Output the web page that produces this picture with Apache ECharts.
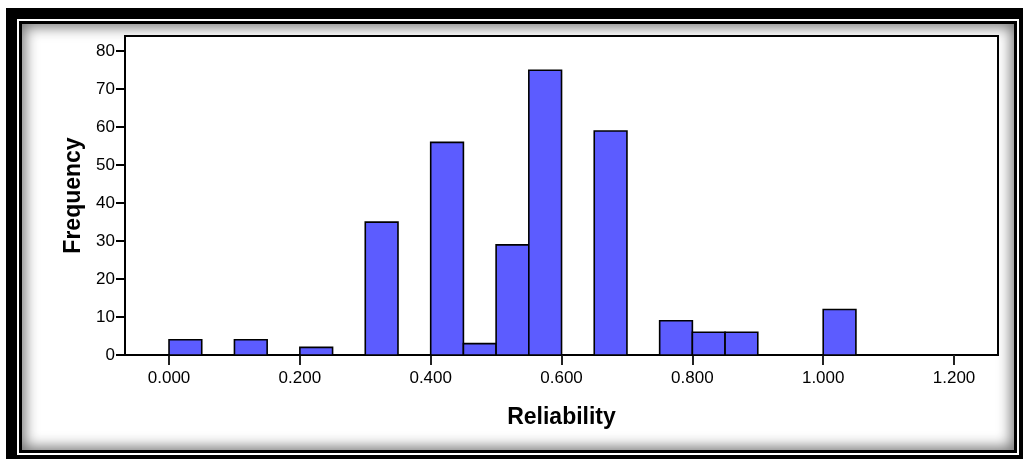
<!DOCTYPE html>
<html>
<head>
<meta charset="utf-8">
<script src="https://cdn.jsdelivr.net/npm/echarts@6/dist/echarts.min.js"></script>
<style>
  html, body { margin: 0; padding: 0; background: #fff; }
  #wrap { position: relative; width: 1026px; height: 459px; overflow: hidden; }
  /* double black frame with a soft inner shadow */
  #outer { position: absolute; left: 6px; top: 8px; width: 1017px; height: 460px; background: #000; }
  #whiteband { position: absolute; left: 17px; top: 19px; width: 1002px; height: 436px; background: #fff; }
  #inner { position: absolute; left: 19px; top: 21px; width: 998px; height: 432px; background: #000; }
  #panel { position: absolute; left: 22px; top: 24px; width: 992px; height: 426px; background: #fff;
           box-shadow: inset 0 0 14px 3px rgba(0,0,0,0.55); }
  #chart { position: absolute; left: 0; top: 0; width: 1026px; height: 459px; }
</style>
</head>
<body>
<div id="wrap">
  <div id="outer"></div>
  <div id="whiteband"></div>
  <div id="inner"></div>
  <div id="panel"></div>
  <div id="chart"></div>
</div>
<script>
// Histogram bins (lower edge of each bin) and their frequencies
const binWidth = 0.05;
const binStarts = [0.00, 0.10, 0.20, 0.30, 0.40, 0.45, 0.50, 0.55, 0.65, 0.75, 0.80, 0.85, 1.00];
const counts    = [4,    4,    2,    35,   56,   3,    29,   75,   59,   9,    6,    6,    12];

// Axis tick values and labels
const xTicks = [0.0, 0.2, 0.4, 0.6, 0.8, 1.0, 1.2];
const xTickLabels = ['0.000', '0.200', '0.400', '0.600', '0.800', '1.000', '1.200'];
const yTicks = [0, 10, 20, 30, 40, 50, 60, 70, 80];

const xName = 'Reliability';
const yName = 'Frequency';

const barData = binStarts.map((s, i) => [s, s + binWidth, counts[i]]);

const chart = echarts.init(document.getElementById('chart'), null, { renderer: 'canvas' });
const font = 'Liberation Sans, Arial, sans-serif';

chart.setOption({
  animation: false,
  backgroundColor: 'transparent',
  grid: {
    left: 125, right: 28, top: 36, bottom: 104,
    show: true, borderColor: '#000', borderWidth: 2, backgroundColor: '#fff'
  },
  xAxis: {
    type: 'value',
    min: -0.0673, max: 1.2672,
    name: xName, nameLocation: 'middle', nameGap: 51,
    nameTextStyle: { fontFamily: font, fontWeight: 'bold', fontSize: 23, color: '#000' },
    axisLine: { show: true, onZero: false, lineStyle: { color: '#000', width: 1.5 } },
    axisTick: { show: true, customValues: xTicks, length: 10, inside: false, lineStyle: { color: '#222', width: 2 } },
    axisLabel: {
      customValues: xTicks, margin: 15,
      fontFamily: font, fontSize: 17, color: '#000',
      formatter: v => {
        const i = xTicks.findIndex(t => Math.abs(t - v) < 1e-6);
        return i >= 0 ? xTickLabels[i] : '';
      }
    },
    splitLine: { show: false }
  },
  yAxis: {
    type: 'value',
    min: 0, max: 84,
    name: yName, nameLocation: 'middle', nameGap: 36, nameRotate: 90,
    nameTextStyle: { fontFamily: font, fontWeight: 'bold', fontSize: 23, color: '#000' },
    axisLine: { show: true, onZero: false, lineStyle: { color: '#000', width: 2 } },
    axisTick: { show: true, customValues: yTicks, length: 9, lineStyle: { color: '#000', width: 2 } },
    axisLabel: { customValues: yTicks, margin: 10, fontFamily: font, fontSize: 17, color: '#000' },
    splitLine: { show: false }
  },
  series: [{
    type: 'custom',
    data: barData,
    encode: { x: [0, 1], y: 2 },
    renderItem: (params, api) => {
      const p0 = api.coord([api.value(0), api.value(2)]);
      const p1 = api.coord([api.value(1), 0]);
      return {
        type: 'rect',
        shape: { x: p0[0], y: p0[1], width: p1[0] - p0[0], height: p1[1] - p0[1] },
        style: { fill: '#5c5cff', stroke: '#000', lineWidth: 1.6 }
      };
    }
  }]
});
</script>
</body>
</html>
